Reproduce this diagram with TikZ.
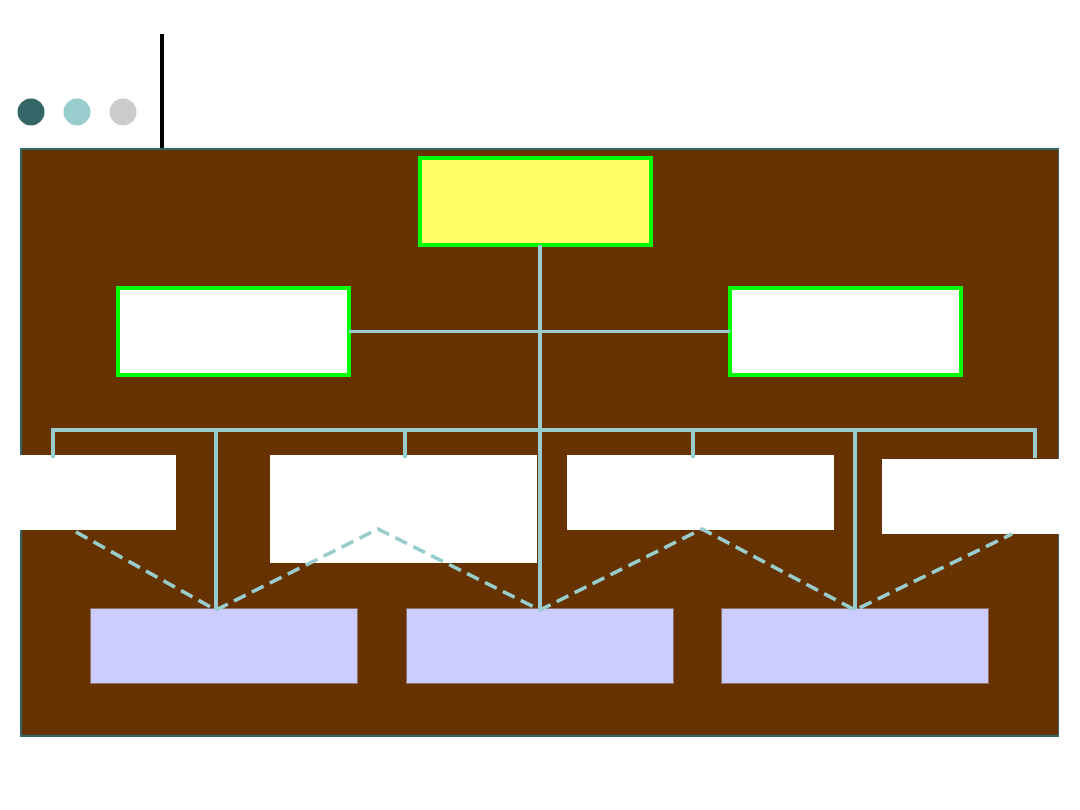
\documentclass[tikz,border=0pt]{standalone}
\usepackage{tikz}

\definecolor{panel}{HTML}{663300}
\definecolor{rim}{HTML}{336666}
\definecolor{boxgreen}{HTML}{00FF00}
\definecolor{headfill}{HTML}{FFFF66}
\definecolor{linkteal}{HTML}{99CCCC}
\definecolor{lavender}{HTML}{CCCCFF}
\definecolor{dotgray}{HTML}{CCCCCC}

\begin{document}
\begin{tikzpicture}[x=0.01cm,y=-0.01cm,
        main box/.style={rectangle,draw=boxgreen,line width=1pt,inner sep=0pt,outer sep=0pt,
                         minimum width=2.31cm,minimum height=0.87cm},
        unit box/.style={rectangle,fill=white,inner sep=0pt,outer sep=0pt,
                         minimum height=0.75cm},
        sub box/.style={rectangle,fill=lavender,draw=panel!60!lavender,line width=0.2pt,inner sep=0pt,outer sep=0pt,
                        minimum width=2.67cm,minimum height=0.75cm},
        link/.style={draw=linkteal,line width=1pt},
        guide/.style={link,dash pattern=on 3.7pt off 2pt}]

        \useasboundingbox (0,0) rectangle (1080,810);

        % title marks
        \fill[rim] (31,112) circle (13.5);
        \fill[linkteal] (77,112) circle (13.5);
        \fill[dotgray] (123,112) circle (13.5);
        \draw[line width=1pt] (162,34) -- (162,149);

        % panel
        \fill[panel] (21,149) rectangle (1058,736);
        \draw[rim,line width=0.3pt] (21,149) rectangle (1058,736);

        \node[main box,fill=headfill] (head) at (535.5,201.5) {};
        \node[main box,fill=white] (lft) at (233.5,331.5) {};
        \node[main box,fill=white] (rgt) at (845.5,331.5) {};

        \node[unit box,minimum width=1.76cm] (u1) at (88,492.5) {};
        \node[unit box,minimum width=2.67cm,minimum height=1.08cm] (u2) at (403.5,509) {};
        \node[unit box,minimum width=2.67cm] (u3) at (700.5,492.5) {};
        \node[unit box,minimum width=1.98cm] (u4) at (981,496.5) {};

        \node[sub box] (s1) at (223.5,645.5) {};
        \node[sub box] (s2) at (539.5,645.5) {};
        \node[sub box] (s3) at (854.5,645.5) {};

        % connectors
        \coordinate (v1) at (216,610);
        \coordinate (v2) at (540,610);
        \coordinate (v3) at (855,610);
        \coordinate (k1) at (378,529);
        \coordinate (k2) at (702,529);
        \coordinate (e0) at (76,532);
        \coordinate (e4) at (1012,534);

        \path[link] (head.south -| v2) edge (v2);
        \path[link] (lft.east) edge (rgt.west);
        \draw[link] (53,458) -- (53,430) -- (1035,430) -- (1035,458);
        \path[link] (216,430) edge (v1);
        \path[link] (855,430) edge (v3);
        \path[link] (405,430) edge (405,458);
        \path[link] (693,430) edge (693,458);

        \draw[guide] (e0) -- (v1) -- (k1) -- (v2) -- (k2) -- (v3) -- (e4);
    \end{tikzpicture}
\end{document}
